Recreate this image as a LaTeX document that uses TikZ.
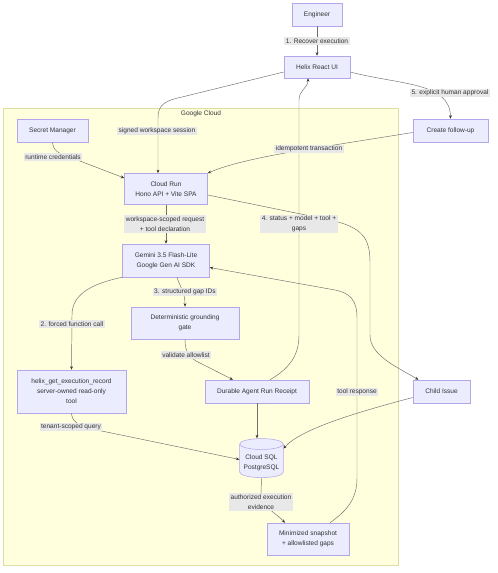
\documentclass[tikz,border=0pt]{standalone}
\usepackage{fontspec}
\setmainfont{Liberation Sans}
\usepackage{xcolor}
\usepackage{tikz}
\usetikzlibrary{arrows.meta,shapes.geometric}
\definecolor{nodefill}{HTML}{ECECFF}
\definecolor{nodeborder}{HTML}{B3A6EA}
\definecolor{clusterfill}{HTML}{FFFFDE}
\definecolor{clusterborder}{HTML}{DDDDA4}
\definecolor{linegray}{HTML}{707070}
\definecolor{tipgray}{HTML}{333333}
\definecolor{labelbg}{HTML}{E8E8E8}
\definecolor{textgray}{HTML}{333333}

\begin{document}
\begin{tikzpicture}[
    x=0.03cm, y=-0.03cm,
    font=\fontsize{5.6}{8.5}\selectfont,
    box/.style={rectangle, draw=nodeborder, fill=nodefill, line width=0.45pt, text=textgray, align=center},
    db/.style={cylinder, shape border rotate=90, aspect=0.25, draw=nodeborder, fill=nodefill, line width=0.45pt, text=textgray, align=center},
    lbl/.style={fill=labelbg, inner sep=1.2pt, text=textgray, align=center},
    arrow/.style={-{Stealth[length=3pt, width=2.4pt, color=tipgray]}, draw=linegray, line width=0.4pt}
]
    \useasboundingbox (0,0) rectangle (497,573);

    % Google Cloud
    \draw[draw=clusterborder, fill=clusterfill, line width=0.5pt] (3,108) rectangle (398,565);
    \node[text=textgray] (gcloud) at (201,114) {Google Cloud};

    % Nodes
    \node[box, minimum width=1.5cm, minimum height=0.69cm] (engineer) at (317,14.5) {Engineer};
    \node[box, minimum width=1.98cm, minimum height=0.66cm] (helix) at (317,67) {Helix React UI};
    \node[box, minimum width=2.13cm, minimum height=0.69cm] (secret) at (52.5,130.5) {Secret Manager};
    \node[box, minimum width=2.25cm, minimum height=0.69cm] (follow) at (450.5,130.5) {Create follow-up};
    \node[box, minimum width=2.49cm, minimum height=0.93cm] (cloudrun) at (166,189) {Cloud Run\\Hono API + Vite SPA};
    \node[box, minimum width=2.61cm, minimum height=0.99cm] (gemini) at (166,260.5) {Gemini 3.5 Flash-Lite\\Google Gen AI SDK};
    \node[box, minimum width=3.24cm, minimum height=0.96cm] (gate) at (185,323) {Deterministic grounding\\gate};
    \node[box, minimum width=3.27cm, minimum height=1.29cm] (tool) at (71.5,391.5) {helix\_get\_execution\_record\\server-owned read-only\\tool};
    \node[box, minimum width=3.12cm, minimum height=0.69cm] (receipt) at (257,391.5) {Durable Agent Run Receipt};
    \node[box, minimum width=1.71cm, minimum height=0.69cm] (child) at (441.5,391.5) {Child Issue};
    \node[db, minimum width=1.23cm, minimum height=1.17cm] (sql) at (261.5,462.5) {Cloud SQL\\PostgreSQL};
    \node[box, minimum width=2.46cm, minimum height=0.96cm] (snap) at (308,539) {Minimized snapshot\\+ allowlisted gaps};

    % Arrows
    \draw[arrow] (engineer) -- (helix);
    \draw[arrow] ([yshift=-0.15cm]helix.west) -- (182,97) .. controls (163,101) and (158,106) .. (158,118) -- ([xshift=-0.24cm]cloudrun.north);
    \draw[arrow] ([yshift=-0.15cm]helix.east) .. controls (400,85) and (450,82) .. (follow.north);
    \draw[arrow] (secret.south) .. controls (53,150) and (58,154) .. (72,158) -- ([yshift=0.33cm]cloudrun.west);
    \draw[arrow] ([yshift=-0.06cm]follow.west) -- (309,149) .. controls (265,156) and (228,164) .. (cloudrun.north east);
    \draw[arrow] (cloudrun) -- (gemini);
    \draw[arrow] ([xshift=0.39cm]receipt.north) .. controls (290,368) and (299,355) .. (299,335) -- (299,100) .. controls (299,90) and (308,88) .. ([xshift=-0.27cm]helix.south);
    \draw[arrow] ([yshift=-0.18cm]cloudrun.east) -- (330,220) .. controls (362,227) and (370,238) .. (370,262) -- (370,335) .. controls (370,355) and (395,366) .. ([xshift=-0.69cm]child.north);
    \draw[arrow] ([xshift=0.66cm]snap.north) .. controls (348,510) and (357,498) .. (357,478) -- (357,318) .. controls (357,300) and (350,293) .. (335,290) -- ([yshift=-0.21cm]gemini.east);
    \draw[arrow] (gemini.south west) .. controls (90,284) and (72,295) .. (72,315) -- (tool.north);
    \draw[arrow] ([xshift=0.33cm]gemini.south) .. controls (180,287) and (185,292) .. (gate.north);
    \draw[arrow] (gate.south) .. controls (185,352) and (189,358) .. (200,363) -- ([xshift=-0.72cm]receipt.north);
    \draw[arrow] (tool.south) .. controls (72,421) and (77,425) .. (92,429) -- ([yshift=0.09cm]sql.west);
    \draw[arrow] (receipt.south) -- (receipt.south |- sql.north);
    \draw[arrow] ([yshift=-0.18cm]child.west) .. controls (350,414) and (300,430) .. ([yshift=0.42cm]sql.east);
    \draw[arrow] (sql.south) -- (261,494) .. controls (263,508) and (276,513) .. ([xshift=-0.69cm]snap.north);

    % Labels
    \node[lbl] (lrecover) at (317,41) {1. Recover execution};
    \node[lbl] (lapproval) at (450,93) {5. explicit human approval};
    \node[lbl] (lsession) at (157,131) {signed workspace session};
    \node[lbl] (lcreds) at (53,157) {runtime credentials};
    \node[lbl] (lidem) at (309,149) {idempotent transaction};
    \node[lbl] (lrequest) at (165,224) {workspace-scoped request\\+ tool declaration};
    \node[lbl] (lstatus) at (299,224) {4. status + model + tool +\\gaps};
    \node[lbl] (lgaps) at (185,292) {3. structured gap IDs};
    \node[lbl] (lforced) at (72,324) {2. forced function call};
    \node[lbl] (lallow) at (186,355) {validate allowlist};
    \node[lbl] (lresponse) at (357,392) {tool response};
    \node[lbl] (ltenant) at (71,427) {tenant-scoped query};
    \node[lbl] (levidence) at (261,502) {authorized execution\\evidence};
\end{tikzpicture}
\end{document}
